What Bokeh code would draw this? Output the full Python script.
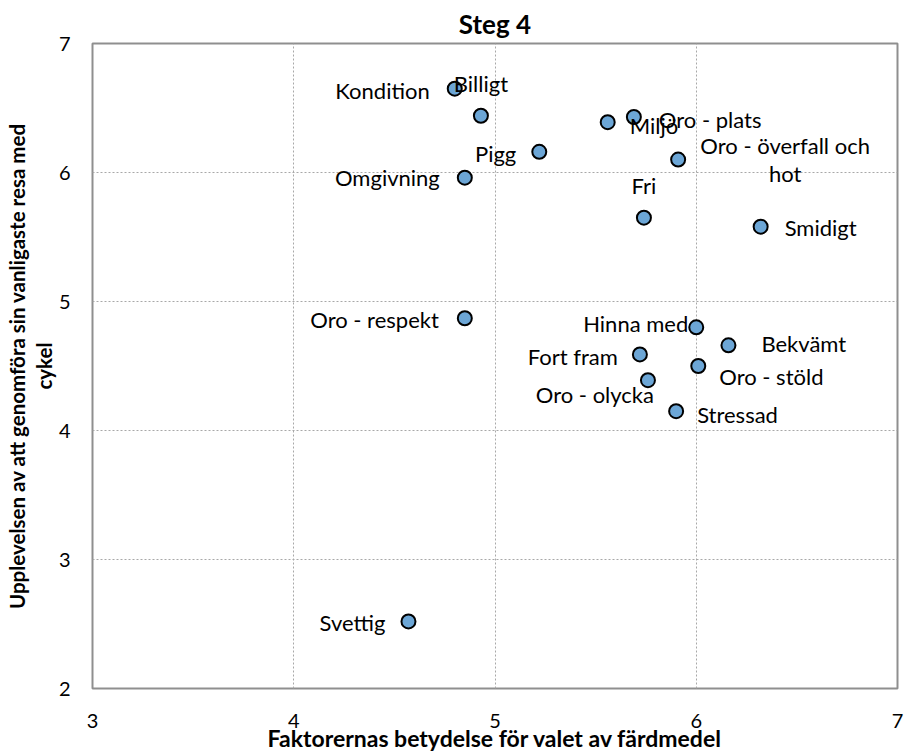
from bokeh.plotting import figure
from bokeh.models import Range1d, ColumnDataSource, FixedTicker
from bokeh.core.properties import value
from bokeh.embed import file_html
from bokeh.resources import INLINE

# ---- data ----
factors = ["Kondition", "Billigt", "Pigg", "Omgivning", "Miljö", "Oro - plats",
           "Oro - överfall och\nhot", "Fri", "Smidigt", "Oro - respekt", "Hinna med",
           "Bekvämt", "Fort fram", "Oro - stöld", "Oro - olycka", "Stressad", "Svettig"]
importance = [4.80, 4.93, 5.22, 4.85, 5.56, 5.69, 5.91, 5.74, 6.32, 4.85, 6.00,
              6.16, 5.72, 6.01, 5.76, 5.90, 4.57]
experience = [6.65, 6.44, 6.16, 5.96, 6.39, 6.43, 6.10, 5.65, 5.58, 4.87, 4.80,
              4.66, 4.59, 4.50, 4.39, 4.15, 2.52]
x_ticks = [3, 4, 5, 6, 7]
y_ticks = [2, 3, 4, 5, 6, 7]
title_text = "Steg 4"
x_title = "Faktorernas betydelse för valet av färdmedel"
y_title = "Upplevelsen av att genomföra sin vanligaste resa med\ncykel"

# ---- label placement (style) ----
label_align = ["right", "center", "right", "right", "left", "left", "center", "center",
               "left", "right", "right", "left", "right", "left", "right", "left", "right"]
label_dx = [-25, 0, -23, -25, 22, 25, 107, 0, 24, -26, -8, 33, -22, 21, 6, 21, -23]
label_dy = [2, -32, 2, 0, 3, 2, 0, -32, 1, 1, -4, -2, 2, 10, 14, 3, 1]

FONT = "Lato"

src = ColumnDataSource(dict(x=importance, y=experience, t=factors,
                            align=label_align, dx=label_dx, dy=label_dy))

p = figure(width=904, height=754, output_backend="svg", toolbar_location=None,
           x_range=Range1d(x_ticks[0], x_ticks[-1]),
           y_range=Range1d(y_ticks[0], y_ticks[-1]),
           min_border_left=92, min_border_right=7, min_border_top=43,
           min_border_bottom=65, title=title_text)

p.title.align = "center"
p.title.text_font = FONT
p.title.text_font_size = "26px"
p.title.text_font_style = "bold"
p.title.text_color = "black"
p.title.standoff = 7

p.outline_line_color = "#8f8f8f"
p.outline_line_width = 2
p.background_fill_color = "white"
p.border_fill_color = "white"

for ax in (p.xaxis[0], p.yaxis[0]):
    ax.axis_line_color = None
    ax.major_tick_line_color = None
    ax.minor_tick_line_color = None
    ax.major_label_text_font = FONT
    ax.major_label_text_font_size = "20px"
    ax.major_label_text_color = "black"
    ax.axis_label_text_font = FONT
    ax.axis_label_text_font_style = "bold"
    ax.axis_label_text_color = "black"

p.xaxis.ticker = FixedTicker(ticks=x_ticks)
p.yaxis.ticker = FixedTicker(ticks=y_ticks)
p.xaxis.axis_label = x_title
p.yaxis.axis_label = y_title
p.xaxis.axis_label_text_font_size = "23px"
p.yaxis.axis_label_text_font_size = "20.5px"
p.yaxis.axis_label_text_line_height = 1.12
p.xaxis.major_label_standoff = 19
p.xaxis.axis_label_standoff = -7
p.yaxis.major_label_standoff = 16
p.yaxis.axis_label_standoff = 0

p.xgrid.ticker = FixedTicker(ticks=x_ticks)
p.ygrid.ticker = FixedTicker(ticks=y_ticks)
for g in (p.xgrid[0], p.ygrid[0]):
    g.grid_line_color = "#a8a8a8"
    g.grid_line_dash = "2 2"
    g.grid_line_width = 1

p.scatter("x", "y", source=src, size=14, fill_color="#6CA6D6",
          line_color="black", line_width=2)

p.text("x", "y", text="t", source=src, text_align="align", text_baseline="middle",
       x_offset="dx", y_offset="dy", text_font=value(FONT),
       text_font_size="22px", text_color="black", text_line_height=1.05)

open("out.html", "w").write(file_html(p, INLINE))
